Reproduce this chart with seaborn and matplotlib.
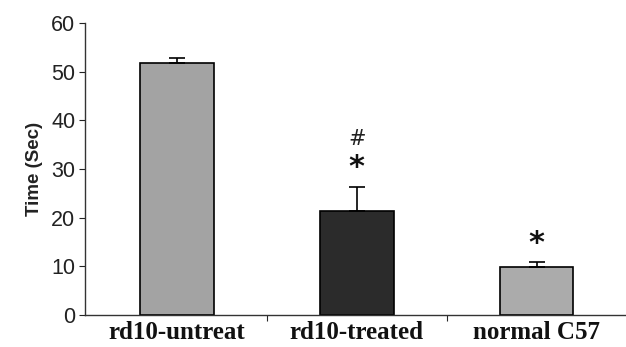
import matplotlib
matplotlib.use("Agg")
import matplotlib.pyplot as plt
import seaborn as sns
import pandas as pd
import numpy as np

groups = ["rd10-untreat", "rd10-treated", "normal C57"]
means = [51.7, 21.4, 9.9]
errors = [1.0, 4.9, 0.9]
colors = ["#a3a3a3", "#2b2b2b", "#ababab"]

sns.set_theme(style="white")
plt.rcParams["font.family"] = ["Liberation Sans", "DejaVu Sans"]

df = pd.DataFrame({"group": groups, "time": means})

fig = plt.figure(figsize=(6.26, 3.47), dpi=100)
ax = fig.add_axes([0.136, 0.092, 0.862, 0.842])
sns.barplot(data=df, x="group", y="time", hue="group", palette=colors,
            legend=False, width=0.41, edgecolor="black", linewidth=1.2, ax=ax,
            errorbar=None)
ax.errorbar(np.arange(len(groups)), means, yerr=[np.zeros(3), errors],
            fmt="none", ecolor="black", elinewidth=1.2, capsize=6, capthick=1.2)

for i, (m, e) in enumerate(zip(means, errors)):
    if i == 1:
        ax.text(i, m + e + 4.0, "*", ha="center", va="center", fontsize=22,
                family="DejaVu Sans", fontweight="bold", color="#111111")
        ax.text(i, m + e + 9.8, "#", ha="center", va="center", fontsize=15,
                family="DejaVu Sans", color="#222222")
    elif i == 2:
        ax.text(i, m + e + 4.0, "*", ha="center", va="center", fontsize=22,
                family="DejaVu Sans", fontweight="bold", color="#111111")

ax.set_xlim(-0.51, 2.49)
ax.set_ylim(0, 60)
ax.set_yticks([0, 10, 20, 30, 40, 50, 60])
ax.tick_params(axis="y", labelsize=15.5, length=4, width=0.8, direction="out",
               left=True, pad=3, colors="#222222")
ax.tick_params(axis="x", length=0, pad=4)
ax.set_xticks([0.5, 1.5], minor=True)
ax.tick_params(axis="x", which="minor", length=4, width=0.8, bottom=True, direction="out")
for lbl in ax.get_xticklabels():
    lbl.set_family(["Liberation Serif", "DejaVu Serif"])
    lbl.set_fontweight("bold")
    lbl.set_fontsize(18)
    lbl.set_color("#111111")
ax.set_xlabel("")
ax.set_ylabel("Time (Sec)", fontsize=13.5, fontweight="bold", labelpad=6, color="#222222")
sns.despine(ax=ax)
for s in ["left", "bottom"]:
    ax.spines[s].set_color("#333333")
    ax.spines[s].set_linewidth(1.0)

fig.savefig("out.png", dpi=100)
